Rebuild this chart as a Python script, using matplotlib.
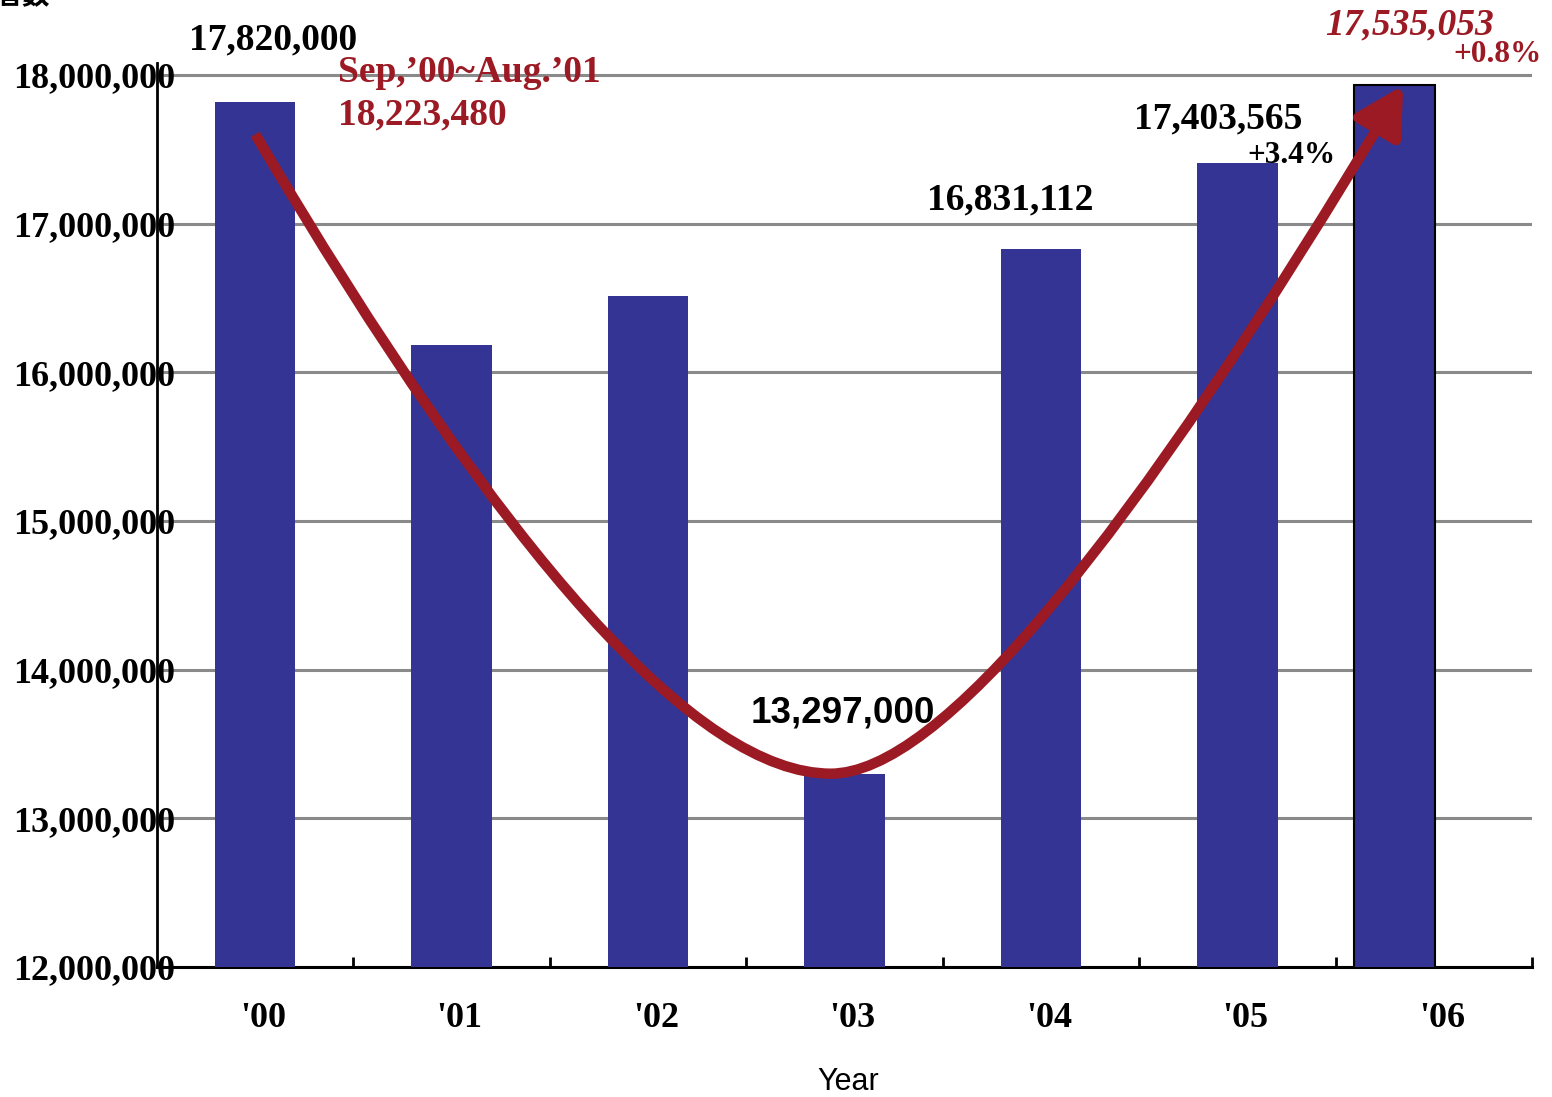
import matplotlib
matplotlib.use("Agg")
import matplotlib.pyplot as plt
from matplotlib.patches import FancyArrowPatch
from matplotlib.path import Path
from matplotlib.transforms import ScaledTranslation

# データ
years = ["'00", "'01", "'02", "'03", "'04", "'05", "'06"]
visitors = [17820000, 16180000, 16510000, 13297000, 16831112, 17403565, 17930000]
label_2006 = 17535053
sep_aug_label = "Sep,\u201900~Aug.\u201901"
sep_aug_value = 18223480
growth_05 = "+3.4%"
growth_06 = "+0.8%"
yticks = [12000000, 13000000, 14000000, 15000000, 16000000, 17000000, 18000000]

BAR = "#343494"
RED = "#9C1A24"
SERIF = "Liberation Serif"
SANS = "Liberation Sans"

fig = plt.figure(figsize=(15.52, 10.97), dpi=100)
ax = fig.add_axes([157 / 1552, 1 - 967 / 1097, 1375 / 1552, 904 / 1097])

# 棒グラフ ('06 は少し左に寄せて描かれている)
xpos = [0, 1, 2, 3, 4, 5, 5.8]
bars = ax.bar(xpos, visitors, width=0.41, color=BAR, zorder=3)
bars[-1].set_edgecolor("black")
bars[-1].set_linewidth(1.5)

ax.set_xlim(-0.5, 6.5)
ax.set_ylim(12000000, 12000000 + 904 / 148.7 * 1e6)

ax.set_yticks(yticks)
ax.set_yticklabels([f"{v:,}" for v in yticks], family=SERIF, weight="bold", fontsize=26)
ax.tick_params(axis="y", length=0, pad=-13)

ax.set_xticks(range(len(years)))
ax.set_xticklabels(years, family=SERIF, weight="bold", fontsize=26)
ax.set_xticks([i + 0.5 for i in range(len(years))], minor=True)
ax.tick_params(axis="x", which="major", length=0, pad=25)
ax.tick_params(axis="x", which="minor", direction="in", length=7, width=2, color="black")
for lab in ax.get_xticklabels():
    lab.set_transform(lab.get_transform() + ScaledTranslation(0.08, 0, fig.dpi_scale_trans))

ax.grid(axis="y", color="#8a8a8a", lw=2.2)
ax.set_axisbelow(True)
for s in ["top", "right"]:
    ax.spines[s].set_visible(False)
ax.spines["left"].set_linewidth(2)
ax.spines["bottom"].set_linewidth(2.2)

# 矢印カーブ
verts = [(0.0, 17.6e6), (1.92, 13.3e6), (2.93, 13.3e6), (3.75, 13.3e6), (5.844, 17.93e6)]
codes = [Path.MOVETO, Path.CURVE3, Path.CURVE3, Path.CURVE3, Path.CURVE3]
arrow = FancyArrowPatch(path=Path(verts, codes), arrowstyle="-|>,head_length=0.4,head_width=0.22",
                        mutation_scale=72, lw=7.5, color=RED, transform=ax.transData,
                        zorder=4, capstyle="butt")
ax.add_patch(arrow)

# ラベル
big = dict(family=SERIF, weight="bold", fontsize=27, va="baseline", zorder=5)
ax.text(0.0906, 18.168e6, f"{visitors[0]:,}", ha="center", color="black", **big)
ax.text(0.422, 17.953e6, sep_aug_label, ha="left", color=RED, **big)
ax.text(0.422, 17.664e6, f"{sep_aug_value:,}", ha="left", color=RED, **big)
ax.text(2.99, 13.642e6, f"{visitors[3]:,}", ha="center", va="baseline", family=SANS,
        weight="bold", fontsize=26.5, zorder=5)
ax.text(3.843, 17.092e6, f"{visitors[4]:,}", ha="center", color="black", **big)
ax.text(4.902, 17.637e6, f"{visitors[5]:,}", ha="center", color="black", **big)
ax.text(5.498, 17.408e6, growth_05, ha="right", va="baseline", family=SERIF, weight="bold",
        fontsize=22.5, zorder=5)
ax.text(5.876, 18.269e6, f"{label_2006:,}", ha="center", va="baseline", family=SERIF,
        weight="bold", style="italic", fontsize=27, color=RED, zorder=5)
ax.text(6.551, 18.087e6, growth_06, ha="right", va="baseline", family=SERIF, weight="bold",
        fontsize=22.5, color=RED, zorder=5)

fig.text(848 / 1552, 1 - 1082 / 1097, "Year", family=SANS, fontsize=22, ha="center", va="center")
fig.text(50 / 1552, 1 - 10 / 1097, "者数", family=["Noto Sans CJK JP", "DejaVu Sans"],
         weight="bold", fontsize=20, ha="right", va="bottom")

fig.savefig("out.png", dpi=100)
